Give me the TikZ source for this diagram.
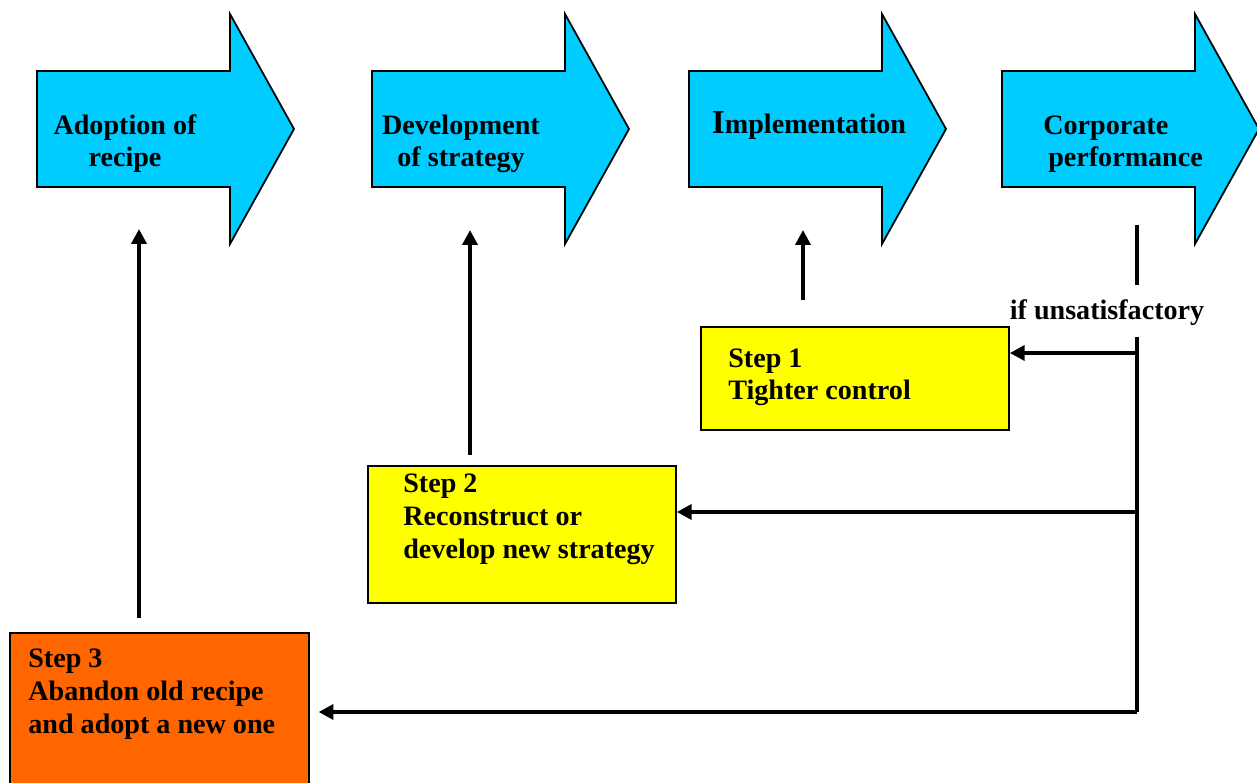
\documentclass[tikz,border=0pt]{standalone}
\usepackage{fontspec}
\setmainfont{Liberation Serif}
\usetikzlibrary{arrows.meta}
\definecolor{flowcyan}{HTML}{00CCFF}
\definecolor{stepyellow}{HTML}{FFFF00}
\definecolor{steporange}{HTML}{FF6600}
\begin{document}
\begin{tikzpicture}[x=0.02cm,y=-0.02cm,
  txt/.style={font=\bfseries\fontsize{16}{18.5}\selectfont, inner sep=0pt},
  blockarrow/.style={draw=black, line width=1pt, fill=flowcyan, line join=miter},
  stepbox/.style={draw=black, line width=0.9pt, inner sep=0pt},
  fb/.style={line width=2.2pt, -{Triangle[width=8.5pt,length=8.5pt]}},
  plainline/.style={line width=2.2pt}]
\useasboundingbox (0,0) rectangle (1257,783);
% block arrows
\foreach \ox in {37,372,689,1002}{
  \draw[blockarrow] (\ox,71) -- ++(193,0) -- ++(0,-57) -- ++(64,115) -- ++(-64,115) -- ++(0,-57) -- ++(-193,0) -- cycle;
}
\node[txt, align=center, anchor=base] (a1) at (125,167) {Adoption of\\recipe};
\node[txt, align=center, anchor=base] (a2) at (461,167) {Development\\of strategy};
\node[txt, anchor=base] (a3) at (809,134) {{\fontsize{19}{18}\selectfont I}mplementation};
\node[txt, align=left, anchor=base west] (a4) at (1043,167) {Corporate\\\hspace*{2.8pt}performance};
% step boxes
\node[stepbox, fill=stepyellow, minimum width=6.16cm, minimum height=2.06cm] (s1) at (855,378.5) {};
\node[stepbox, fill=stepyellow, minimum width=6.16cm, minimum height=2.74cm] (s2) at (522,534.5) {};
\node[stepbox, fill=steporange, minimum width=5.98cm, minimum height=3.4cm] (s3) at (159.5,718) {};
\node[txt, align=left, anchor=base west] (t1) at (728,400) {Step 1\\Tighter control};
\node[txt, align=left, anchor=base west] (t2) at (403,558) {Step 2\\Reconstruct or\\develop new strategy};
\node[txt, align=left, anchor=base west] (t3) at (28,733) {Step 3\\Abandon old recipe\\and adopt a new one};
% feedback
\coordinate (u1a) at (139,618); \coordinate (u1b) at (139,229);
\coordinate (u2a) at (470,455); \coordinate (u2b) at (470,230);
\coordinate (u3a) at (803,300); \coordinate (u3b) at (803,230);
\draw[fb] (u1a) -- (u1b);
\draw[fb] (u2a) -- (u2b);
\draw[fb] (u3a) -- (u3b);
\coordinate (ctop) at (1137,225); \coordinate (cmid) at (1137,285);
\node[txt, anchor=base] (lbl) at (1107,320) {if unsatisfactory};
\coordinate (csplit) at (1137,337); \coordinate (cbot) at (1137,712);
\draw[plainline] (ctop) -- (cmid);
\draw[plainline] (csplit) -- (cbot);
\coordinate (j1) at (1137,353);
\coordinate (j2) at (1137,512);
\coordinate (j3) at (1137,712);
\draw[fb] (j1) -- (j1 -| s1.east);
\draw[fb] (j2) -- (j2 -| s2.east);
\draw[fb, shorten >=5pt] (j3) -- (j3 -| s3.east);
\end{tikzpicture}
\end{document}
